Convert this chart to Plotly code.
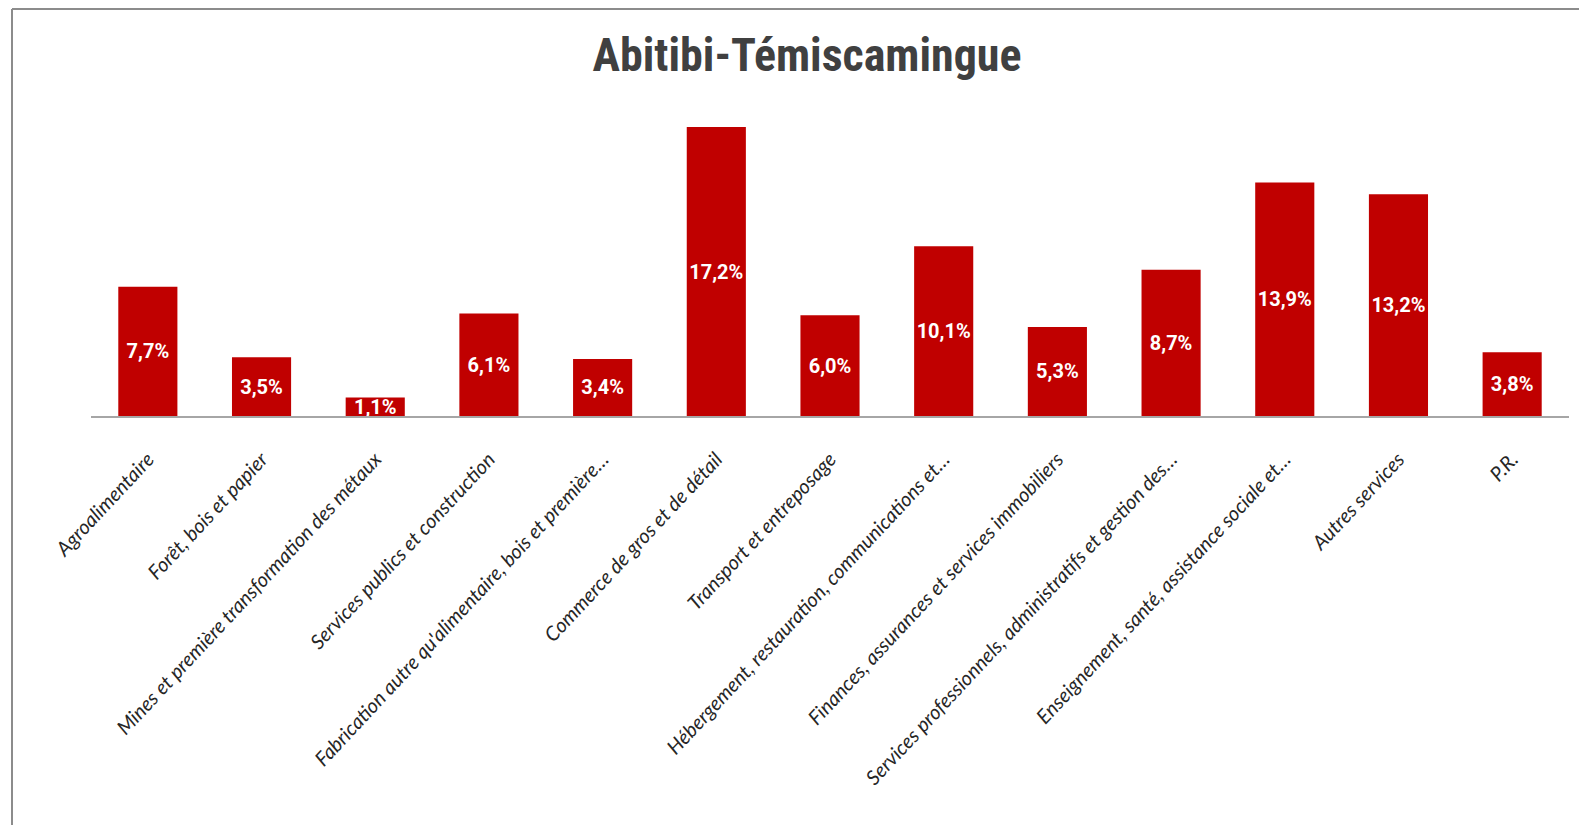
import plotly.graph_objects as go

categories = [
    "Agroalimentaire",
    "Forêt, bois et papier",
    "Mines et première transformation des métaux",
    "Services publics et construction",
    "Fabrication autre qu'alimentaire, bois et première…",
    "Commerce de gros et de détail",
    "Transport et entreposage",
    "Hébergement, restauration, communications et…",
    "Finances, assurances et services immobiliers",
    "Services professionnels, administratifs et gestion des…",
    "Enseignement, santé, assistance sociale et…",
    "Autres services",
    "P.R.",
]
values = [7.7, 3.5, 1.1, 6.1, 3.4, 17.2, 6.0, 10.1, 5.3, 8.7, 13.9, 13.2, 3.8]

# page body has an 8px margin, so the figure is laid out 8px up/left
W, H = 1587, 825
ML, MR, MT, MB = 83, 26, 92, 417
plot_w = W - ML - MR
plot_h = H - MT - MB

fig = go.Figure(go.Bar(
    x=categories,
    y=values,
    marker=dict(color="#C00000", line=dict(width=0)),
    texttemplate="%{y:.1f}%",
    textposition="inside",
    insidetextanchor="middle",
    constraintext="none",
    textangle=0,
    textfont=dict(family="Roboto, sans-serif", size=20, color="white", weight="bold"),
    hoverinfo="skip",
))

# frame lines (top and left only, as in the source)
bx = (4 - ML) / plot_w
ty = 1 + (MT - 1) / plot_h
fig.add_shape(type="line", xref="paper", yref="paper", x0=bx, x1=(W - ML) / plot_w,
              y0=ty, y1=ty, line=dict(color="#8C8C8C", width=2))
fig.add_shape(type="line", xref="paper", yref="paper", x0=bx, x1=bx,
              y0=ty, y1=-(MB) / plot_h, line=dict(color="#8C8C8C", width=2))

fig.update_layout(
    width=W, height=H,
    margin=dict(l=ML, r=MR, t=MT, b=MB),
    paper_bgcolor="white",
    plot_bgcolor="white",
    separators=", ",
    bargap=0.48,
    showlegend=False,
    title=dict(
        text="Abitibi-Témiscamingue",
        x=799 / W, xanchor="center",
        y=1 - 47 / H, yanchor="middle",
        font=dict(family="Liberation Sans Narrow, Roboto Condensed, Roboto, sans-serif",
                  size=46, color="#404040", weight="bold"),
    ),
    xaxis=dict(
        showline=True, linecolor="#A6A6A6", linewidth=1.5,
        showgrid=False, ticks="", tickangle=-47,
        ticklabelstandoff=22,
        tickfont=dict(family="Lato, Open Sans, sans-serif", size=20, color="#262626", style="italic"),
        fixedrange=True,
    ),
    yaxis=dict(
        range=[0, plot_h / 16.8],
        visible=False, showgrid=False, zeroline=False,
        fixedrange=True,
    ),
)

fig.write_html("out.html")
